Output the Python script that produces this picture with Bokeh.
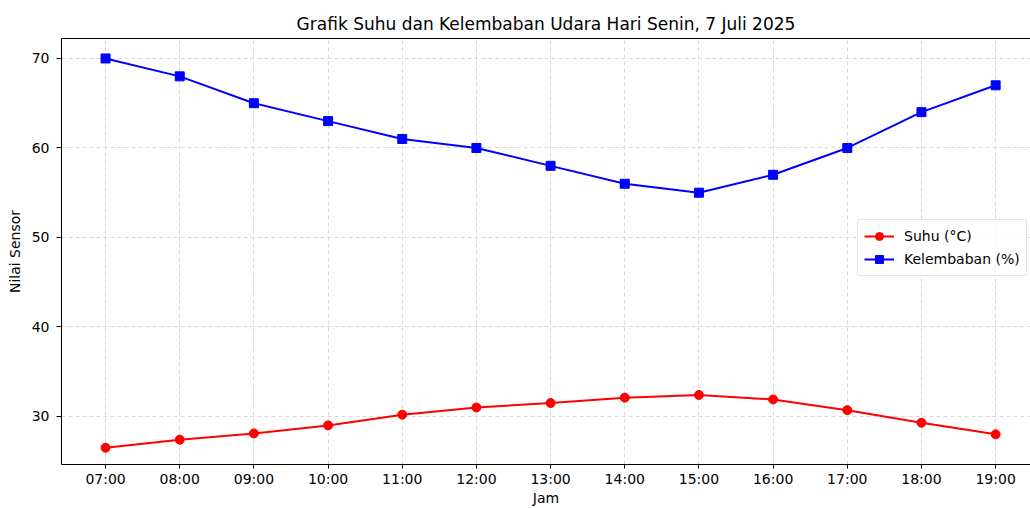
import numpy as np
from bokeh.plotting import figure
from bokeh.models import FixedTicker, Range1d, Legend, LinearAxis
from bokeh.embed import file_html
from bokeh.resources import INLINE

hours = ["07:00", "08:00", "09:00", "10:00", "11:00", "12:00", "13:00",
         "14:00", "15:00", "16:00", "17:00", "18:00", "19:00"]
suhu = [26.5, 27.4, 28.1, 29.0, 30.2, 31.0, 31.5, 32.1, 32.4, 31.9, 30.7, 29.3, 28.0]
kelembaban = [70, 68, 65, 63, 61, 60, 58, 56, 55, 57, 60, 64, 67]
y_ticks = [30, 40, 50, 60, 70]

FONT = "DejaVu Sans"
x = list(range(len(hours)))

p = figure(width=1030, height=508, output_backend="svg", toolbar_location=None,
           x_range=Range1d(-0.594, 12.47), y_range=Range1d(24.63, 72.23),
           min_border_left=61, min_border_right=0, min_border_top=38, min_border_bottom=41)

p.title.text = "Grafik Suhu dan Kelembaban Udara Hari Senin, 7 Juli 2025"
p.title.text_font = FONT
p.title.text_font_size = "17px"
p.title.text_font_style = "normal"
p.title.align = "center"
p.title.text_color = "#000000"

p.outline_line_color = None
p.background_fill_color = "white"
p.border_fill_color = "white"

for ax in (p.xaxis[0], p.yaxis[0]):
    ax.major_label_text_font = FONT
    ax.major_label_text_font_size = "14px"
    ax.major_label_text_color = "#000000"
    ax.axis_line_color = "#000000"
    ax.major_tick_line_color = "#000000"
    ax.major_tick_out = 5
    ax.major_tick_in = 0
    ax.minor_tick_line_color = None
    ax.axis_label_text_font = FONT
    ax.axis_label_text_font_size = "14px"
    ax.axis_label_text_font_style = "normal"
    ax.axis_label_text_color = "#000000"

p.xaxis.major_tick_out = 4
p.xaxis.major_label_standoff = 2
p.xaxis.axis_label = "Jam"
p.xaxis.axis_label_standoff = 0
p.yaxis.major_label_standoff = 7
p.xaxis.ticker = FixedTicker(ticks=x)
p.xaxis.major_label_overrides = {i: h for i, h in zip(x, hours)}
p.yaxis.ticker = FixedTicker(ticks=y_ticks)
p.yaxis.axis_label = "Nilai Sensor"
p.yaxis.axis_label_standoff = 6

# top spine (box frame) without ticks or labels
top = LinearAxis(ticker=FixedTicker(ticks=[]), axis_line_color="#000000",
                 major_tick_line_color=None, minor_tick_line_color=None,
                 major_label_text_font_size="0px")
p.add_layout(top, "above")

for g in (p.xgrid[0], p.ygrid[0]):
    g.grid_line_color = "#d9d9d9"
    g.grid_line_dash = "4 3"
    g.grid_line_width = 1

r1 = p.line(x, suhu, line_color="#ff0000", line_width=2)
s1 = p.scatter(x, suhu, marker="circle", size=9, fill_color="#ff0000", line_color="#ff0000")
r2 = p.line(x, kelembaban, line_color="#0000ff", line_width=2)
s2 = p.scatter(x, kelembaban, marker="square", size=9, fill_color="#0000ff", line_color="#0000ff")

legend = Legend(items=[("Suhu (°C)", [r1, s1]), ("Kelembaban (%)", [r2, s2])],
                location=(796, 188))
legend.label_text_font = FONT
legend.label_text_font_size = "14px"
legend.label_text_color = "#000000"
legend.border_line_color = "#cccccc"
legend.border_line_width = 1
legend.border_radius = 3
legend.glyph_width = 30
legend.glyph_height = 20
legend.label_height = 20
legend.spacing = 3
legend.padding = 6
legend.margin = 0
legend.label_standoff = 10
legend.background_fill_alpha = 0.8
p.add_layout(legend, "center")

open("out.html", "w").write(file_html(p, INLINE))
